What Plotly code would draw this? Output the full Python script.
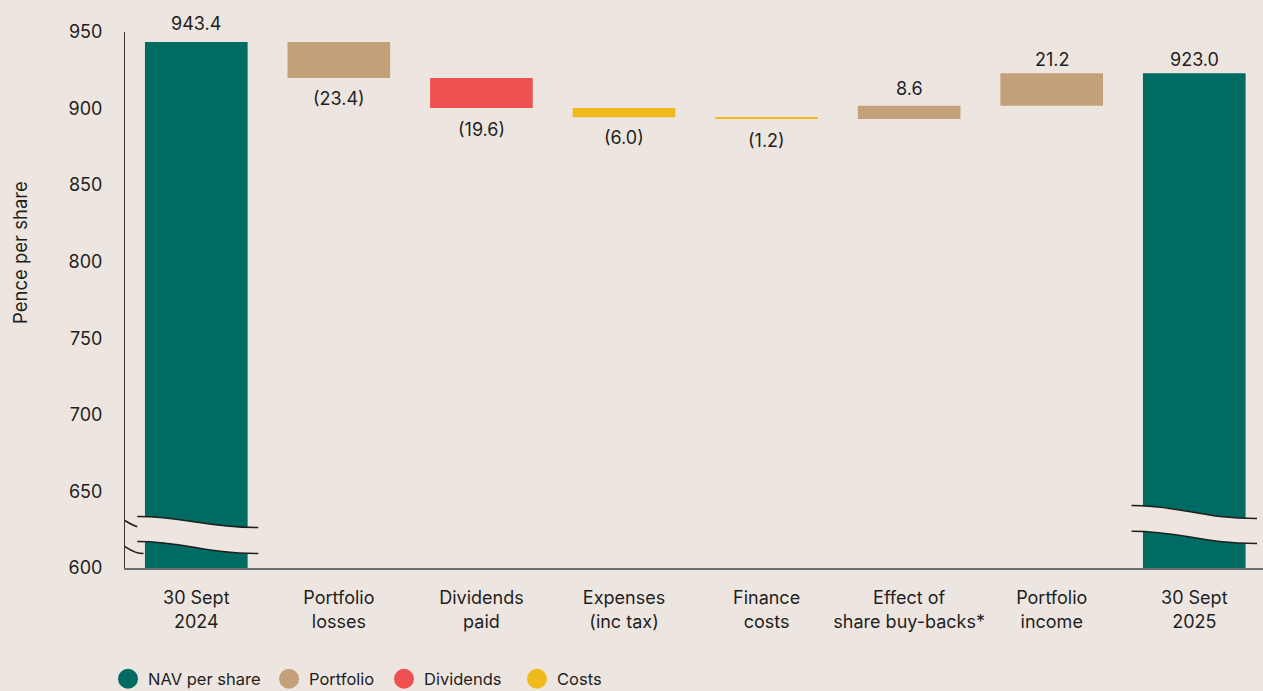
import plotly.graph_objects as go

# NAV per share bridge, pence
categories = ["30 Sept<br>2024", "Portfolio<br>losses", "Dividends<br>paid", "Expenses<br>(inc tax)",
              "Finance<br>costs", "Effect of<br>share buy-backs*", "Portfolio<br>income", "30 Sept<br>2025"]
values = [943.4, -23.4, -19.6, -6.0, -1.2, 8.6, 21.2, 923.0]
is_total = [True, False, False, False, False, False, False, True]
groups = ["NAV per share", "Portfolio", "Dividends", "Costs", "Costs", "Portfolio", "Portfolio", "NAV per share"]
y_ticks = [600, 650, 700, 750, 800, 850, 900, 950]

palette = {
    "NAV per share": "#006B63",
    "Portfolio": "#C4A07A",
    "Dividends": "#EE5150",
    "Costs": "#EEBA1C",
}
legend_widths = [116, 70, 88, 60]
BG = "#EDE6E0"
TEXT = "#1E1E1E"
FONT = "Inter"

# layout geometry (px)
W, H = 1263, 691
M_L, M_R, M_T, M_B = 125, 0, 32, 123
PLOT_W = W - M_L - M_R
PLOT_H = H - M_T - M_B
PLOT_BOTTOM = H - M_B

# label offsets above/below each bar (px)
label_shift = [6, -8, -9, -8, -9, 5, 1, 1]

# running totals -> bar base / height
xs, bases, heights, colors = [], [], [], []
running = 0.0
for i, (v, tot) in enumerate(zip(values, is_total)):
    xs.append(i)
    if tot:
        running = v
        bases.append(0)
        heights.append(v)
    else:
        start = running
        running = start + v
        bases.append(min(start, running))
        heights.append(abs(v))
    colors.append(palette[groups[i]])

fig = go.Figure()
fig.add_trace(go.Bar(
    x=xs, y=heights, base=bases, width=0.72,
    marker=dict(color=colors, line=dict(width=0)),
    showlegend=False, hoverinfo="skip",
))

# legend entries
for (name, col), lw in zip(palette.items(), legend_widths):
    fig.add_trace(go.Scatter(
        x=[None], y=[None], mode="markers", name=name, legendwidth=lw,
        marker=dict(symbol="circle", size=16, color=col, line=dict(color=col, width=4)),
    ))

# value labels
annotations = []
for i, v in enumerate(values):
    top = bases[i] + heights[i]
    if is_total[i] or v > 0:
        annotations.append(dict(x=xs[i], y=top, text=f"{v:.1f}", showarrow=False, yanchor="bottom",
                                yshift=label_shift[i], font=dict(size=18, color=TEXT, family=FONT)))
    else:
        annotations.append(dict(x=xs[i], y=bases[i], text=f"({abs(v):.1f})", showarrow=False,
                                yanchor="top", yshift=label_shift[i],
                                font=dict(size=18, color=TEXT, family=FONT)))

annotations.append(dict(
    xref="paper", yref="paper", x=(20 - M_L) / PLOT_W, y=(PLOT_BOTTOM - 253) / PLOT_H,
    text="Pence per share", textangle=-90, showarrow=False, xanchor="center", yanchor="middle",
    font=dict(size=18.5, color=TEXT, family=FONT),
))


# axis-break marks: a background band between two wavy strokes
def s_path(x0, y0, x1, y1):
    dx = x1 - x0
    return f"M{x0},{y0} C{x0 + 0.4 * dx},{y0} {x0 + 0.55 * dx},{y1} {x1},{y1}"


def band_path(x0, x1, ya0, ya1, yb0, yb1):
    dx = x1 - x0
    return (f"M{x0},{ya0} C{x0 + 0.4 * dx},{ya0} {x0 + 0.55 * dx},{ya1} {x1},{ya1} "
            f"L{x1},{yb1} C{x0 + 0.55 * dx},{yb1} {x0 + 0.4 * dx},{yb0} {x0},{yb0} Z")


breaks = [
    # x0, x1, upper line (start, end), lower line (start, end)
    (-0.6, -0.37, 634.3, 626.4, 617.3, 609.4),
    (-0.414, 0.435, 633.7, 626.4, 617.3, 609.4),
    (6.56, 7.44, 640.8, 632.3, 624.0, 616.0),
]
shapes = []
for x0, x1, ya0, ya1, yb0, yb1 in breaks:
    shapes.append(dict(type="path", xref="x", yref="y", layer="above",
                       path=band_path(x0, x1, ya0, ya1, yb0, yb1),
                       fillcolor=BG, line=dict(width=0)))
    for (p0, p1) in [(ya0, ya1), (yb0, yb1)]:
        shapes.append(dict(type="path", xref="x", yref="y", layer="above",
                           path=s_path(x0, p0, x1, p1),
                           line=dict(color="#1E1E1E", width=1.5)))

fig.update_layout(
    width=W, height=H,
    margin=dict(l=M_L, r=M_R, t=M_T, b=M_B, autoexpand=False),
    paper_bgcolor=BG, plot_bgcolor=BG,
    font=dict(family=FONT, color=TEXT),
    barmode="overlay",
    annotations=annotations,
    shapes=shapes,
    showlegend=True,
    legend=dict(orientation="h", x=(108 - M_L) / PLOT_W, y=(PLOT_BOTTOM - 679) / PLOT_H,
                xanchor="left", yanchor="middle", bgcolor="rgba(0,0,0,0)",
                font=dict(size=16.5, color=TEXT, family=FONT), itemsizing="trace"),
    xaxis=dict(
        range=[-0.5, 7.482], tickmode="array", tickvals=xs, ticktext=categories,
        showgrid=False, zeroline=False, showline=True, linecolor="#6E6E6E", linewidth=1.5,
        ticks="", ticklabelstandoff=13, tickfont=dict(size=18, color=TEXT, family=FONT),
        fixedrange=True,
    ),
    yaxis=dict(
        range=[600, 950], tickmode="array", tickvals=y_ticks,
        showgrid=False, zeroline=False, showline=True, linecolor="#333333", linewidth=1,
        ticks="", ticklabelstandoff=18, tickfont=dict(size=18, color=TEXT, family=FONT),
        fixedrange=True,
    ),
)

fig.write_html("out.html")
